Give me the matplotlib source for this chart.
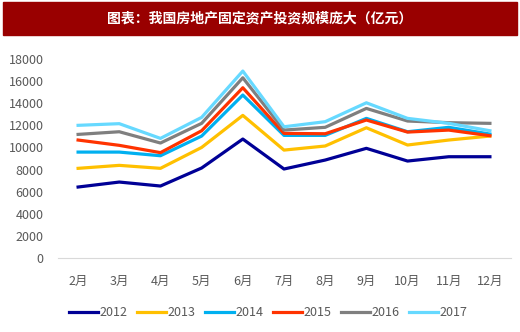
import matplotlib
matplotlib.use("Agg")
import matplotlib.pyplot as plt
from matplotlib.patches import Rectangle

plt.rcParams['font.family'] = ['Noto Sans CJK SC', 'DejaVu Sans']

# --- 数据 ---
months = ["2月", "3月", "4月", "5月", "6月", "7月", "8月", "9月", "10月", "11月", "12月"]
y2012 = [6420, 6870, 6510, 8140, 10760, 8050, 8860, 9920, 8770, 9160, 9160]
y2013 = [8110, 8380, 8110, 10000, 12900, 9760, 10130, 11780, 10220, 10670, 11030]
y2014 = [9580, 9580, 9250, 11030, 14740, 11090, 11090, 12630, 11420, 11820, 11210]
y2015 = [10670, 10190, 9530, 11510, 15400, 11270, 11240, 12480, 11390, 11570, 11060]
y2016 = [11180, 11420, 10400, 12180, 16300, 11570, 11820, 13530, 12390, 12240, 12180]
y2017 = [12000, 12150, 10820, 12720, 16910, 11870, 12330, 14040, 12630, 12180, 11510]

series = [("2012", y2012, "#000096"), ("2013", y2013, "#FFC000"),
          ("2014", y2014, "#00B0F0"), ("2015", y2015, "#FF3300"),
          ("2016", y2016, "#7F7F7F"), ("2017", y2017, "#66D9FF")]

W, H = 520, 332
fig = plt.figure(figsize=(W / 100, H / 100), dpi=100)

# --- 标题栏 ---
fig.patches.append(Rectangle((3 / W, 1 - 35 / H), 514 / W, 33 / H,
                             transform=fig.transFigure, color="#990000", zorder=0))
fig.text(0.5, 1 - 18.5 / H, "图表：我国房地产固定资产投资规模庞大（亿元）",
         color="white", fontsize=10, fontweight="bold", ha="center", va="center")

# --- 折线图 ---
ax = fig.add_axes([57.5 / W, (H - 258) / H, 453 / W, 199 / H])
x = range(len(months))
for name, vals, c in series:
    ax.plot(x, vals, color=c, lw=2.3, label=name)

ax.set_xlim(-0.5, len(months) - 0.5)
ax.set_ylim(0, 18000)
ax.set_yticks(range(0, 18001, 2000))
ax.set_xticks(list(x))
ax.set_xticklabels(months)
ax.tick_params(axis="both", length=0, colors="#595959", labelsize=9)
ax.tick_params(axis="x", pad=12)
ax.tick_params(axis="y", pad=10)
for s in ["top", "right", "left"]:
    ax.spines[s].set_visible(False)
ax.spines["bottom"].set_color("#D9D9D9")

leg = fig.legend(loc="center", bbox_to_anchor=(268 / W, 1 - 313 / H), ncol=6, frameon=False,
                 fontsize=9, handlelength=2.3, handletextpad=0.1, columnspacing=0.8,
                 labelcolor="#595959")

fig.savefig("out.png", dpi=100)
